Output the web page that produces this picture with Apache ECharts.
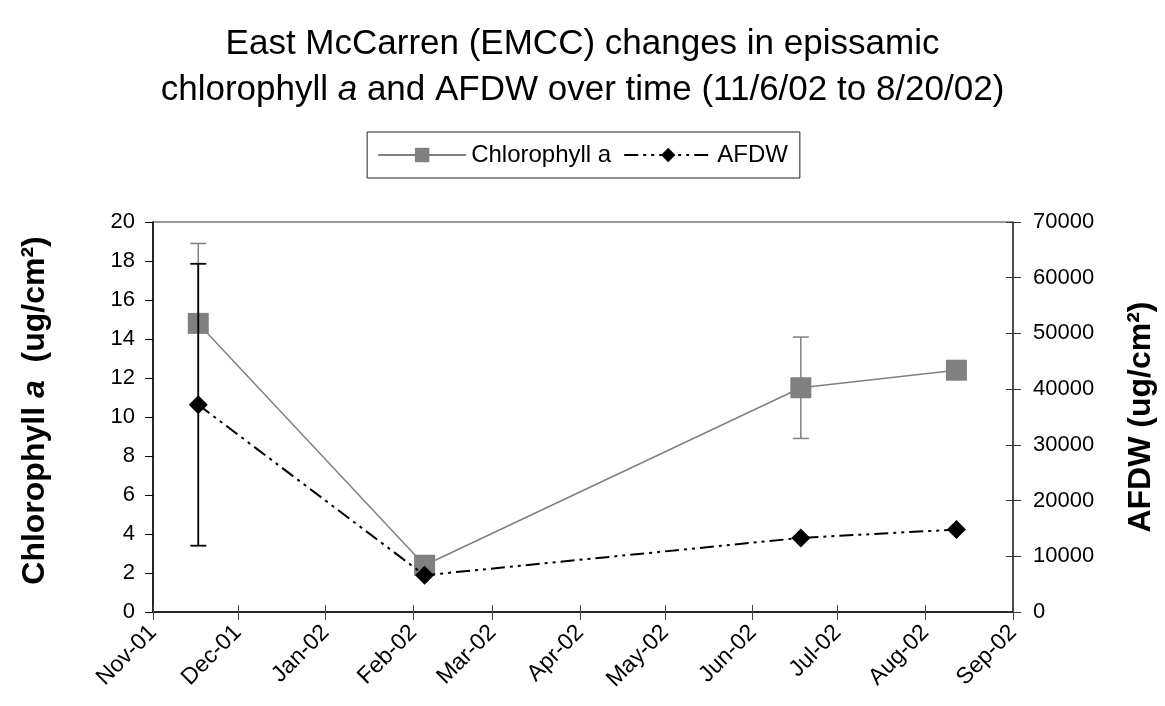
<!DOCTYPE html>
<html>
<head>
<meta charset="utf-8">
<script src="https://cdn.jsdelivr.net/npm/echarts@6/dist/echarts.min.js"></script>
<style>
html,body{margin:0;padding:0;background:#fff;}
#chart{width:1165px;height:706px;}
</style>
</head>
<body>
<div id="chart"></div>
<script>
// ---- data ----
const sampleDates = ['2001-11-17', '2002-02-05', '2002-06-18', '2002-08-12'];
const chlorophyll = [14.8, 2.4, 11.5, 12.4];
const chlorophyllErr = [4.1, 0, 2.6, 0];
const afdw = [37200, 6600, 13300, 14800];
const afdwErr = [25300, 0, 0, 0];
const monthNames = ['Jan','Feb','Mar','Apr','May','Jun','Jul','Aug','Sep','Oct','Nov','Dec'];
const xMin = '2001-11-01';
const xMax = '2002-09-01';

const chlSeries = sampleDates.map((d, i) => [d, chlorophyll[i]]);
const afdwSeries = sampleDates.map((d, i) => [d, afdw[i]]);
const chlErrData = sampleDates.map((d, i) => [d, chlorophyll[i] - chlorophyllErr[i], chlorophyll[i] + chlorophyllErr[i]]).filter((r, i) => chlorophyllErr[i] > 0);
const afdwErrData = sampleDates.map((d, i) => [d, afdw[i] - afdwErr[i], afdw[i] + afdwErr[i]]).filter((r, i) => afdwErr[i] > 0);

function errRender(color, width) {
  return function (params, api) {
    const x = api.value(0);
    const lo = api.coord([x, api.value(1)]);
    const hi = api.coord([x, api.value(2)]);
    const cap = 8;
    const style = { stroke: color, lineWidth: width };
    return {
      type: 'group',
      children: [
        { type: 'line', shape: { x1: lo[0], y1: lo[1], x2: hi[0], y2: hi[1] }, style },
        { type: 'line', shape: { x1: lo[0] - cap, y1: lo[1], x2: lo[0] + cap, y2: lo[1] }, style },
        { type: 'line', shape: { x1: hi[0] - cap, y1: hi[1], x2: hi[0] + cap, y2: hi[1] }, style }
      ]
    };
  };
}

function monthLabel(v) {
  const d = new Date(v);
  return monthNames[d.getMonth()] + '-' + String(d.getFullYear()).slice(2);
}

const FONT = '"Liberation Sans", Arial, sans-serif';
const chart = echarts.init(document.getElementById('chart'), null, { renderer: 'canvas' });
chart.setOption({
  animation: false,
  backgroundColor: '#fff',
  textStyle: { fontFamily: FONT, color: '#000' },
  title: {
    left: 'center',
    top: 16,
    text: 'East McCarren (EMCC) changes in epissamic\nchlorophyll {it|a} and AFDW over time (11/6/02 to 8/20/02)',
    textStyle: {
      fontFamily: FONT, fontSize: 35, fontWeight: 'normal', color: '#000', lineHeight: 46,
      rich: { it: { fontFamily: FONT, fontSize: 35, fontStyle: 'italic', color: '#000', lineHeight: 46 } }
    }
  },
  legend: {
    top: 132,
    left: 'center',
    data: ['Chlorophyll a', 'AFDW'],
    borderColor: '#222',
    borderWidth: 1,
    borderRadius: 0,
    padding: [11, 12, 11, 10],
    itemWidth: 88,
    itemHeight: 18,
    itemGap: 12,
    textStyle: { fontFamily: FONT, fontSize: 24, color: '#000' }
  },
  grid: {
    left: 153, right: 152, top: 222, bottom: 94,
    show: true, borderColor: '#333', borderWidth: 1, containLabel: false
  },
  xAxis: [
    {
      type: 'time',
      min: xMin,
      max: xMax,
      minInterval: 28 * 86400000,
      maxInterval: 31 * 86400000,
      splitLine: { show: false },
      axisLine: { lineStyle: { color: '#000', width: 1.5 } },
      axisTick: { length: 8, lineStyle: { color: '#444' } },
      axisLabel: {
        rotate: 45, fontSize: 23, color: '#000', fontFamily: FONT, margin: 17,
        showMinLabel: true, showMaxLabel: true,
        formatter: monthLabel
      }
    },
    {
      type: 'time',
      position: 'bottom',
      min: xMin,
      max: xMax,
      minInterval: 28 * 86400000,
      maxInterval: 31 * 86400000,
      splitLine: { show: false },
      axisLine: { show: false },
      axisTick: { inside: true, length: 7, lineStyle: { color: '#444' } },
      axisLabel: { show: false }
    }
  ],
  yAxis: [
    {
      type: 'value', min: 0, max: 20, interval: 2,
      position: 'left',
      splitLine: { show: false },
      axisLine: { show: true, lineStyle: { color: '#000', width: 1.5 } },
      axisTick: { show: true, length: 8, lineStyle: { color: '#000' } },
      axisLabel: { fontSize: 22, color: '#000', fontFamily: FONT, margin: 18 },
      name: 'Chlorophyll {bi|a}  (ug/cm²)',
      nameLocation: 'middle',
      nameGap: 102,
      nameRotate: 90,
      nameTextStyle: {
        fontFamily: FONT, fontSize: 32, fontWeight: 'bold', color: '#000',
        padding: [0, 0, 0, 13],
        rich: { bi: { fontFamily: FONT, fontSize: 32, fontWeight: 'bold', fontStyle: 'italic', color: '#000' } }
      }
    },
    {
      type: 'value', min: 0, max: 70000, interval: 10000,
      position: 'right',
      splitLine: { show: false },
      axisLine: { show: true, lineStyle: { color: '#333', width: 1.5 } },
      axisTick: { show: true, length: 8, lineStyle: { color: '#333' } },
      axisLabel: { fontSize: 22, color: '#000', fontFamily: FONT, margin: 20, formatter: (v) => String(v) },
      name: 'AFDW (ug/cm²)',
      nameLocation: 'middle',
      nameGap: 112,
      nameRotate: 90,
      nameTextStyle: { fontFamily: FONT, fontSize: 32, fontWeight: 'bold', color: '#000' }
    },
    {
      type: 'value', min: 0, max: 70000, interval: 10000,
      position: 'right',
      splitLine: { show: false },
      axisLine: { show: false },
      axisTick: { show: true, inside: true, length: 7, lineStyle: { color: '#333' } },
      axisLabel: { show: false }
    }
  ],
  series: [
    {
      name: 'Chlorophyll a',
      type: 'line',
      yAxisIndex: 0,
      data: chlSeries,
      symbol: 'rect',
      symbolSize: 21,
      lineStyle: { color: '#808080', width: 1.5 },
      itemStyle: { color: '#808080' },
      z: 2
    },
    {
      name: 'chlErr',
      type: 'custom',
      yAxisIndex: 0,
      data: chlErrData,
      renderItem: errRender('#808080', 1.5),
      z: 3
    },
    {
      name: 'AFDW',
      type: 'line',
      yAxisIndex: 1,
      data: afdwSeries,
      symbol: 'diamond',
      symbolSize: 19,
      lineStyle: { color: '#000', width: 2, type: [14, 5, 3, 5, 3, 5] },
      itemStyle: { color: '#000' },
      z: 4
    },
    {
      name: 'afdwErr',
      type: 'custom',
      yAxisIndex: 1,
      data: afdwErrData,
      renderItem: errRender('#000', 1.8),
      z: 5
    }
  ]
});
</script>
</body>
</html>
